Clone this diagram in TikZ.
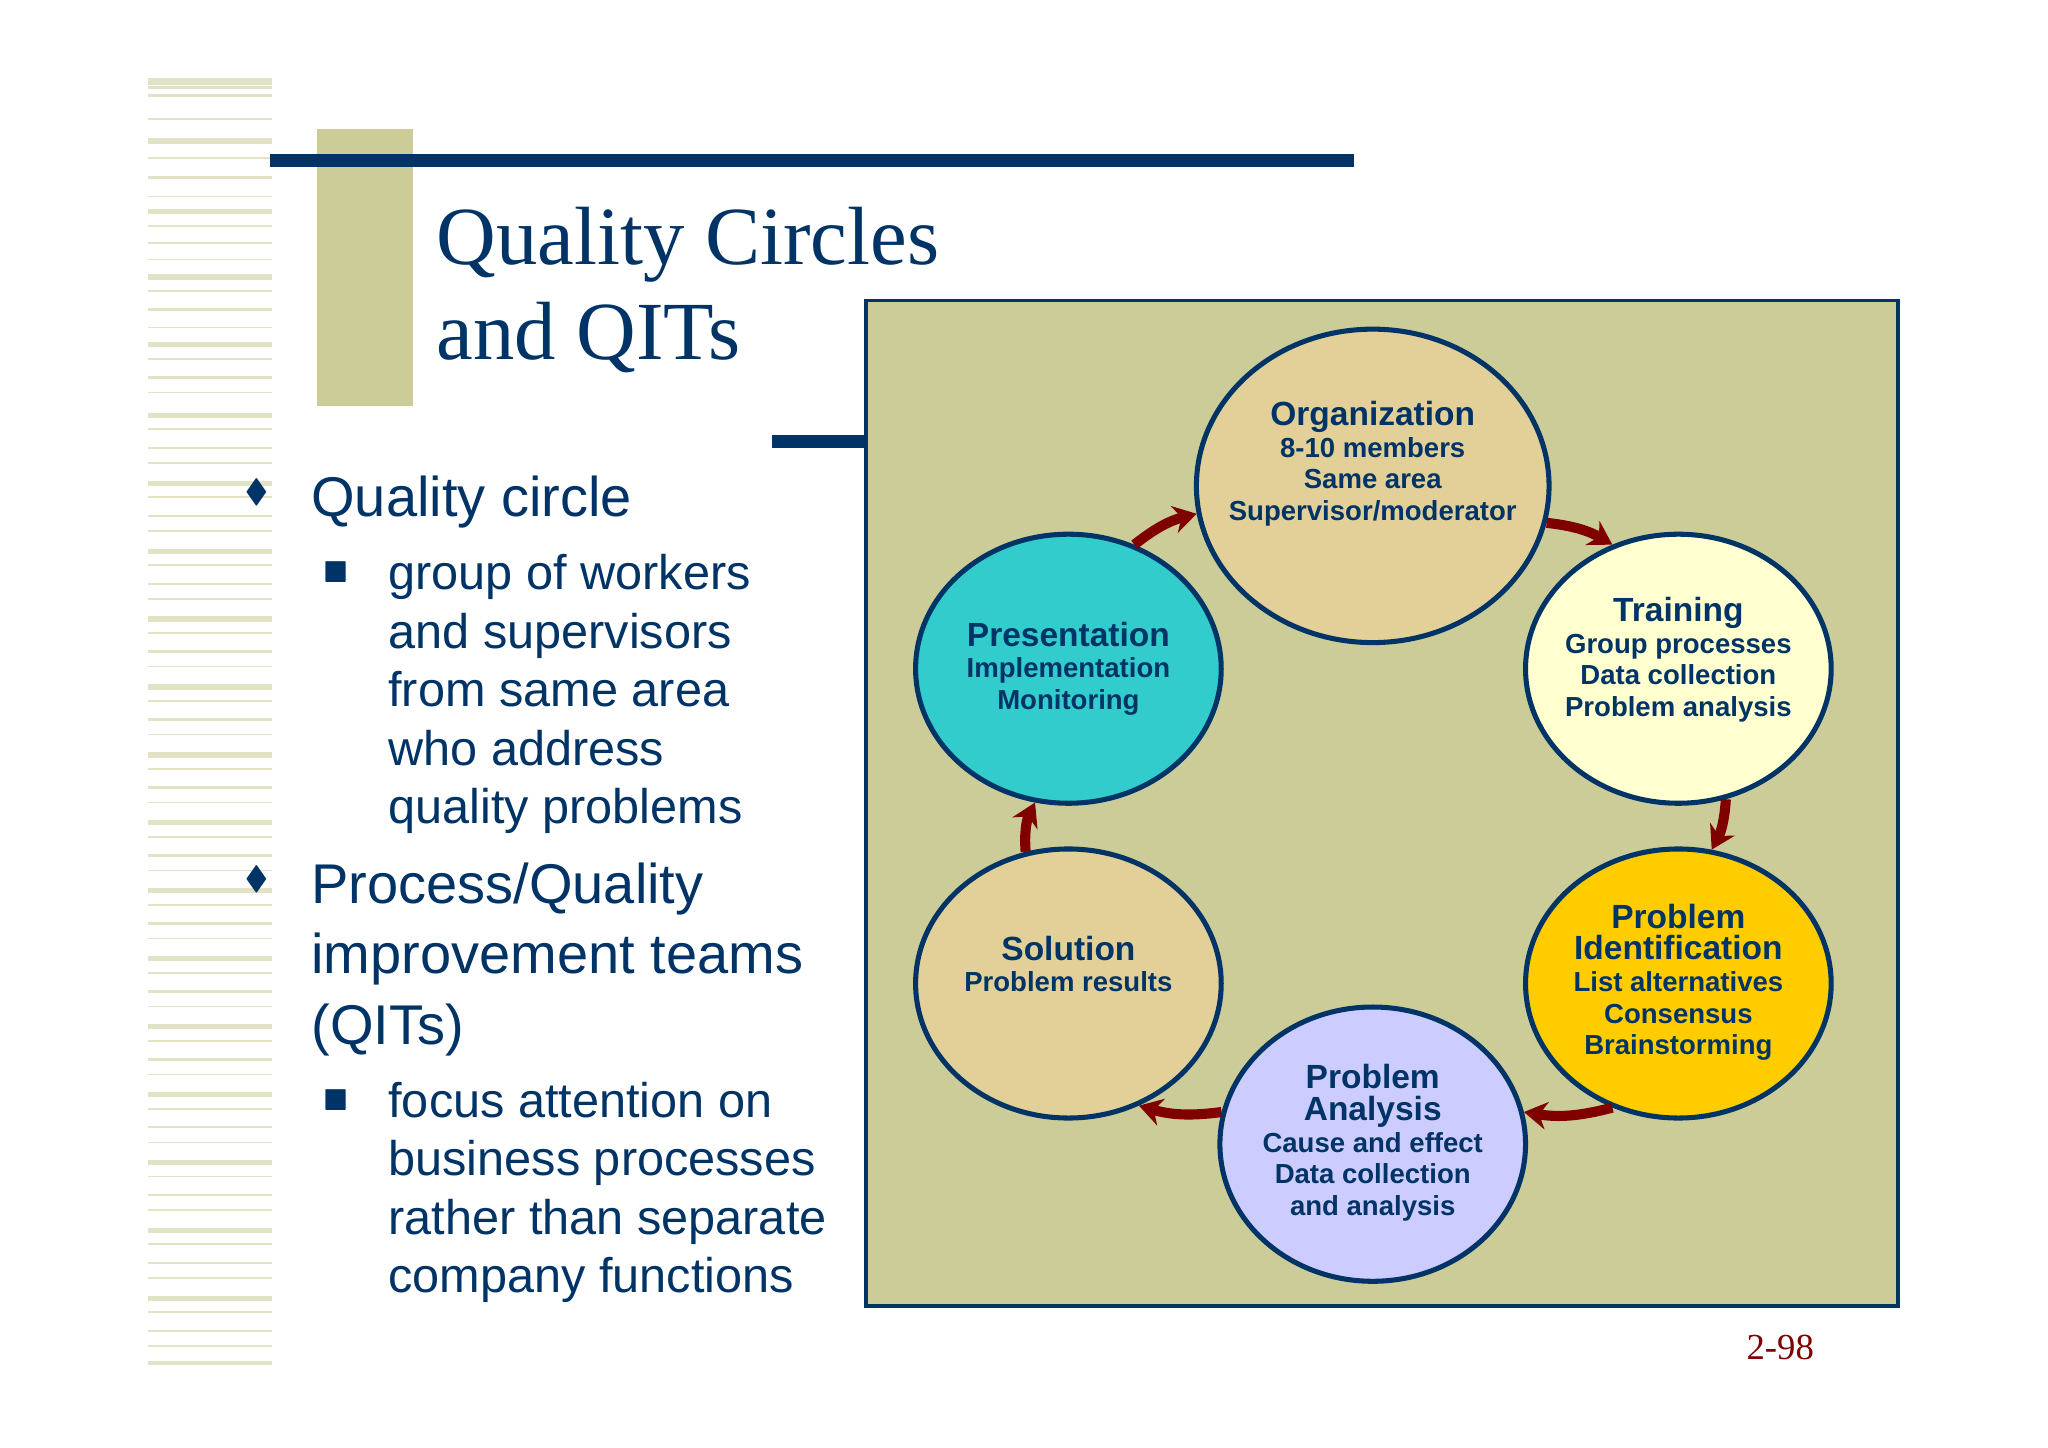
\documentclass[tikz,border=0pt]{standalone}
\usepackage{amssymb}
\usepackage{fontspec}
\setmainfont{Liberation Sans}
\newfontfamily\tms{Liberation Serif}
\usetikzlibrary{shapes.geometric,arrows.meta}
\definecolor{navy}{HTML}{003366}
\definecolor{olive}{HTML}{CCCC99}
\definecolor{stripe}{HTML}{E2E2C4}
\definecolor{dred}{HTML}{800000}
\newcommand{\hd}[1]{{\fontsize{7.3}{8.2}\selectfont #1}}
\begin{document}
\begin{tikzpicture}[x=0.1mm,y=-0.1mm,
  circ/.style={ellipse,draw=navy,line width=1.1pt,inner sep=0pt},
  ct/.style={align=center,text=navy,font=\fontsize{6}{6.9}\selectfont\bfseries},
  arr/.style={-{Stealth[length=5pt,width=6pt]},draw=dred,line width=2.2pt},
  btxt/.style={anchor=north west,align=left,text=navy}]
\useasboundingbox[fill=white] (0,0) rectangle (1568,1108);
% stripes
\foreach \y/\w in {60/5,66/2,72/2,90/1.5,106/4,120/1.5,135/2,150/1,160/4,172/1.5,185/2,198/1,210/4,222/1.5,236/2,250/1,262/4,274/1.5,288/2,300/1,316/4,328/1.5,342/2,354/1,368/4,380/1.5,394/2,406/1,420/4,432/1.5,446/2,458/1,472/4,484/1.5,498/2,510/1,524/4,536/1.5,550/2,562/1,576/4,588/1.5,602/2,614/1,628/4,640/1.5,654/2,666/1,680/4,692/1.5,706/2,718/1,732/4,744/1.5,758/2,770/1,784/4,796/1.5,810/2,822/1,836/4,848/1.5,862/2,874/1,888/4,900/1.5,914/2,926/1,940/4,952/1.5,966/2,978/1,992/4,1004/1.5,1018/2,1030/1,1042/3}
  \fill[stripe] (113,\y) rectangle (208,\y+\w);
% title decoration
\fill[olive] (243,99) rectangle (316,311);
\fill[navy] (207,118) rectangle (1037,128);
\fill[navy] (591,333) rectangle (663,343);
\node[anchor=west,text=navy,align=left,font=\tms\fontsize{18}{20.8}\selectfont] (title) at (322,222) {Quality Circles\\and QITs};
% bullets
\node[text=navy,font=\fontsize{7}{7}\selectfont] (d1) at (197,377) {$\blacklozenge$};
\node[btxt,font=\fontsize{12.2}{15}\selectfont] (b1) at (226,352) {Quality circle};
\node[text=navy,font=\fontsize{6}{6}\selectfont] (s1) at (257,438) {$\blacksquare$};
\node[btxt,font=\fontsize{10.6}{12.75}\selectfont] (b2) at (285,412) {group of workers\\and supervisors\\from same area\\who address\\quality problems};
\node[text=navy,font=\fontsize{7}{7}\selectfont] (d2) at (197,673) {$\blacklozenge$};
\node[btxt,font=\fontsize{12.2}{15.4}\selectfont] (b3) at (226,648) {Process/Quality\\improvement teams\\(QITs)};
\node[text=navy,font=\fontsize{6}{6}\selectfont] (s2) at (257,842) {$\blacksquare$};
\node[btxt,font=\fontsize{10.6}{12.75}\selectfont] (b4) at (285,816) {focus attention on\\business processes\\rather than separate\\company functions};
% panel
\draw[navy,fill=olive,line width=0.8pt] (663,230) rectangle (1453,1000);
% circles
\node[circ,fill={rgb,255:red,226;green,208;blue,152},minimum width=27mm,minimum height=24mm] (org) at (1051,372) {};
\node[circ,fill={rgb,255:red,255;green,255;blue,208},minimum width=23.4mm,minimum height=20.6mm] (tr) at (1285,512) {};
\node[circ,fill={rgb,255:red,255;green,204;blue,0},minimum width=23.4mm,minimum height=20.6mm] (pi) at (1285,753) {};
\node[circ,fill={rgb,255:red,204;green,204;blue,255},minimum width=23.4mm,minimum height=21mm] (pa) at (1051,876) {};
\node[circ,fill={rgb,255:red,226;green,208;blue,152},minimum width=23.4mm,minimum height=20.6mm] (so) at (818,753) {};
\node[circ,fill={rgb,255:red,51;green,204;blue,204},minimum width=23.4mm,minimum height=20.6mm] (pr) at (818,512) {};
\node[ct] (torg) at (1051,355) {\hd{Organization}\\8-10 members\\Same area\\Supervisor/moderator};
\node[ct] (ttr) at (1285,505) {\hd{Training}\\Group processes\\Data collection\\Problem analysis};
\node[ct] (tpi) at (1285,752) {\hd{Problem}\\\hd{Identification}\\List alternatives\\Consensus\\Brainstorming};
\node[ct] (tpa) at (1051,875) {\hd{Problem}\\\hd{Analysis}\\Cause and effect\\Data collection\\and analysis};
\node[ct] (tso) at (818,738) {\hd{Solution}\\Problem results};
\node[ct] (tpr) at (818,512) {\hd{Presentation}\\Implementation\\Monitoring};
% arrows
\draw[arr] (org.-12) to[bend left=12] (tr.118);
\draw[arr] (tr.-70) to[bend left=12] (pi.76);
\draw[arr] (pi.-118) to[bend left=12] (pa.12);
\draw[arr] (pa.168) to[bend left=12] (so.-60);
\draw[arr] (so.108) to[bend left=15] (pr.-104);
\draw[arr] (pr.62) to[bend left=12] (org.189);
\node[text=dred,font=\tms\fontsize{8}{8}\selectfont] (pg) at (1363,1032) {2-98};
\end{tikzpicture}
\end{document}
